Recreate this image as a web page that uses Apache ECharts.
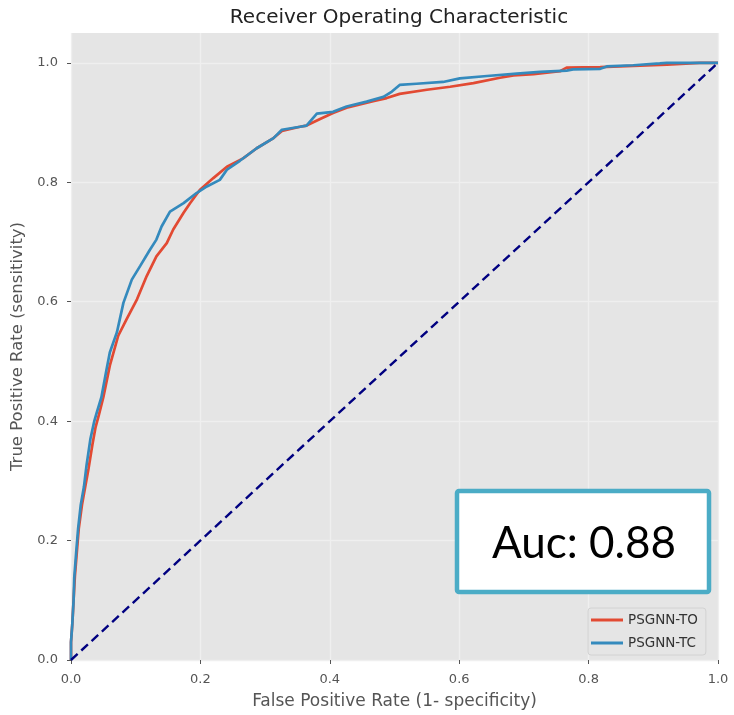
<!DOCTYPE html>
<html>
<head>
<meta charset="utf-8">
<script src="https://cdn.jsdelivr.net/npm/echarts@6/dist/echarts.min.js"></script>
<style>
html,body{margin:0;padding:0;background:#fff;}
#chart{width:734px;height:715px;}
</style>
</head>
<body>
<div id="chart"></div>
<script>
// Data
const tcFpr = [0, 0, 0.002, 0.004, 0.005, 0.008, 0.011, 0.015, 0.020, 0.024, 0.030, 0.036, 0.040, 0.047, 0.055, 0.060, 0.071, 0.081, 0.094, 0.107, 0.122, 0.132, 0.140, 0.153, 0.174, 0.194, 0.210, 0.230, 0.241, 0.261, 0.287, 0.313, 0.326, 0.354, 0.364, 0.380, 0.405, 0.426, 0.457, 0.483, 0.496, 0.508, 0.534, 0.575, 0.601, 0.643, 0.689, 0.725, 0.766, 0.776, 0.818, 0.828, 0.869, 0.910, 0.921, 1.0];
const tcTpr = [0, 0.03, 0.06, 0.10, 0.137, 0.18, 0.22, 0.259, 0.29, 0.326, 0.37, 0.40, 0.415, 0.44, 0.487, 0.515, 0.549, 0.598, 0.637, 0.660, 0.687, 0.704, 0.726, 0.751, 0.765, 0.782, 0.793, 0.804, 0.821, 0.836, 0.857, 0.874, 0.888, 0.893, 0.895, 0.915, 0.918, 0.927, 0.935, 0.943, 0.952, 0.963, 0.965, 0.968, 0.974, 0.978, 0.982, 0.985, 0.987, 0.989, 0.990, 0.994, 0.996, 0.999, 1.0, 1.0];

const toFpr = [0, 0, 0.002, 0.004, 0.006, 0.009, 0.012, 0.017, 0.022, 0.027, 0.033, 0.038, 0.043, 0.050, 0.060, 0.073, 0.086, 0.102, 0.117, 0.132, 0.148, 0.158, 0.174, 0.184, 0.199, 0.220, 0.241, 0.266, 0.287, 0.313, 0.326, 0.354, 0.364, 0.385, 0.405, 0.426, 0.467, 0.488, 0.508, 0.550, 0.586, 0.622, 0.663, 0.684, 0.715, 0.756, 0.766, 0.818, 0.869, 0.921, 0.972, 1.0];
const toTpr = [0, 0.03, 0.06, 0.10, 0.14, 0.18, 0.22, 0.26, 0.29, 0.32, 0.36, 0.39, 0.41, 0.44, 0.493, 0.543, 0.571, 0.604, 0.643, 0.676, 0.698, 0.721, 0.749, 0.765, 0.787, 0.807, 0.826, 0.840, 0.857, 0.874, 0.886, 0.893, 0.895, 0.906, 0.916, 0.925, 0.936, 0.941, 0.948, 0.955, 0.960, 0.966, 0.975, 0.979, 0.981, 0.986, 0.992, 0.993, 0.995, 0.997, 1.0, 1.0];

const diagX = [0, 1];
const diagY = [0, 1];

const tickValues = [0, 0.2, 0.4, 0.6, 0.8, 1.0];
const seriesNames = ['PSGNN-TO', 'PSGNN-TC'];
const aucText = 'Auc: 0.88';

const zip = (a, b) => a.map((v, i) => [v, b[i]]);

const chart = echarts.init(document.getElementById('chart'), null, {renderer: 'canvas'});
const font = 'DejaVu Sans';
const axisCommon = {
  min: 0,
  interval: 0.2,
  axisLine: {show: false},
  axisTick: {show: true, length: 4, lineStyle: {color: '#555', width: 1}, customValues: tickValues},
  axisLabel: {color: '#555', fontSize: 13, fontFamily: font, customValues: tickValues,
    formatter: v => v.toFixed(1)},
  splitLine: {show: true, lineStyle: {color: '#efefef', width: 1.3}},
  nameLocation: 'middle',
  nameTextStyle: {color: '#555', fontSize: 17, fontFamily: font}
};

chart.setOption({
  animation: false,
  title: {
    text: 'Receiver Operating Characteristic',
    left: 394, top: 3, textAlign: 'center',
    textStyle: {color: '#222', fontSize: 20, fontWeight: 'normal', fontFamily: font}
  },
  grid: {left: 71, right: 16, top: 33, bottom: 53, show: true, backgroundColor: '#e5e5e5', borderWidth: 0},
  xAxis: Object.assign({}, axisCommon, {type: 'value', max: 1, name: 'False Positive Rate (1- specificity)', nameGap: 33,
    axisLabel: Object.assign({}, axisCommon.axisLabel, {margin: 13})}),
  yAxis: Object.assign({}, axisCommon, {type: 'value', max: 1.05, name: 'True Positive Rate (sensitivity)', nameGap: 44,
    nameTextStyle: {color: '#555', fontSize: 16.5, fontFamily: font},
    axisLabel: Object.assign({}, axisCommon.axisLabel, {margin: 13})}),
  legend: {
    data: seriesNames,
    orient: 'vertical',
    left: 588, top: 608,
    padding: [5, 8, 5, 3],
    itemGap: 9,
    itemWidth: 32, itemHeight: 3,
    icon: 'rect',
    backgroundColor: '#e5e5e5',
    borderColor: '#d2d2d2', borderWidth: 1, borderRadius: 3,
    textStyle: {color: '#333', fontSize: 13.5, fontFamily: font}
  },
  series: [
    {name: seriesNames[0], type: 'line', data: zip(toFpr, toTpr), showSymbol: false, symbol: 'none',
      lineStyle: {color: '#E24A33', width: 2.7}, itemStyle: {color: '#E24A33'}, z: 2},
    {name: seriesNames[1], type: 'line', data: zip(tcFpr, tcTpr), showSymbol: false, symbol: 'none',
      lineStyle: {color: '#348ABD', width: 2.7}, itemStyle: {color: '#348ABD'}, z: 3},
    {name: 'chance', type: 'line', data: zip(diagX, diagY), showSymbol: false, symbol: 'none',
      lineStyle: {color: '#000080', width: 2.4, type: [9, 5]}, z: 4}
  ],
  graphic: [
    {type: 'rect', shape: {x: 457, y: 491, width: 252, height: 101, r: 2},
      style: {fill: '#ffffff', stroke: '#4BACC6', lineWidth: 4.5}, z: 100},
    {type: 'text', x: 584, y: 544,
      style: {text: aucText, align: 'center', verticalAlign: 'middle',
        font: '44px Lato', fill: '#000'}, z: 101}
  ]
});
</script>
</body>
</html>
